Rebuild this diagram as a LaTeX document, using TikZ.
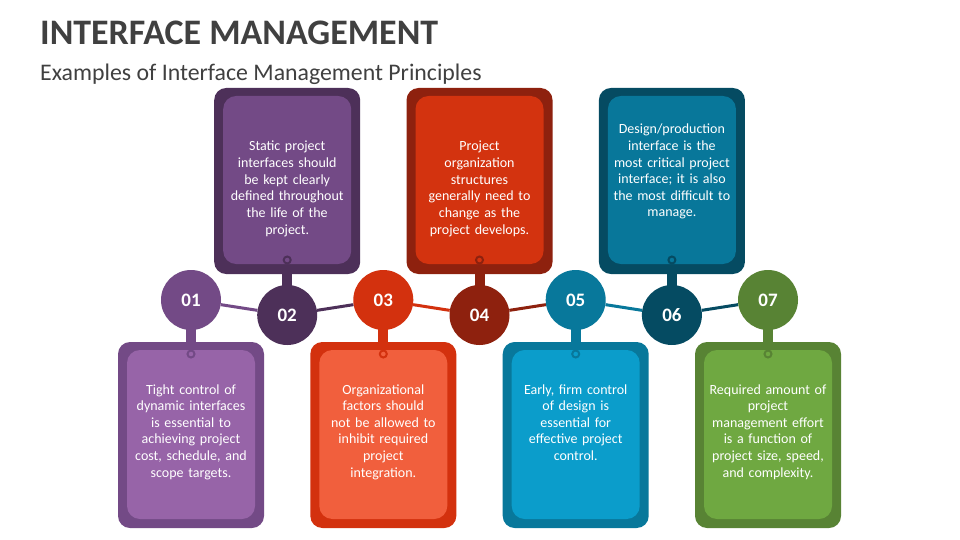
\documentclass[tikz,border=0pt]{standalone}
\usepackage{fontspec}
\setmainfont{Carlito}
\pgfdeclarelayer{bg}
\pgfsetlayers{bg,main}
\definecolor{o1}{HTML}{734A86}\definecolor{i1}{HTML}{9764A8}
\definecolor{o2}{HTML}{4D3059}\definecolor{i2}{HTML}{734A86}
\definecolor{o3}{HTML}{D3310E}\definecolor{i3}{HTML}{F15F3D}
\definecolor{o4}{HTML}{8E210E}\definecolor{i4}{HTML}{D3330F}
\definecolor{o5}{HTML}{08789B}\definecolor{i5}{HTML}{0B9DCB}
\definecolor{o6}{HTML}{054B62}\definecolor{i6}{HTML}{08779A}
\definecolor{o7}{HTML}{588334}\definecolor{i7}{HTML}{6FA841}
\definecolor{titlegray}{HTML}{404040}
\begin{document}
\begin{tikzpicture}[x=1pt,y=-1pt,
  outerbox/.style={rectangle, rounded corners=12pt, minimum width=146pt, minimum height=186pt, inner sep=0pt},
  innerbox/.style={rectangle, rounded corners=13pt, minimum width=128pt, minimum height=168pt, inner sep=0pt},
  numcircle/.style={circle, minimum size=60pt, inner sep=0pt, text=white, font=\fontsize{19}{19}\bfseries\selectfont},
  ring/.style={circle, minimum size=7pt, inner sep=0pt, line width=2pt},
  stem/.style={line width=10pt},
  link/.style={line width=3pt},
  desc/.style={text=white, align=center, text width=140pt, anchor=base, inner sep=0pt, font=\fontsize{14}{16.6}\selectfont}]
\useasboundingbox (0,0) rectangle (960,540);
\node[anchor=base west, inner sep=0pt, text=titlegray, font=\fontsize{35.9}{36}\bfseries\selectfont] (title) at (40,45) {INTERFACE MANAGEMENT};
\node[anchor=base west, inner sep=0pt, text=titlegray, font=\fontsize{23.8}{24}\selectfont] (subtitle) at (40,80.5) {Examples of Interface Management Principles};
% 01 bottom
\node[outerbox, fill=o1] (ob1) at (191,435) {};
\node[innerbox, minimum height=169pt, fill=i1] (ib1) at (191,434.5) {};
\node[ring, draw=o1, fill=i1] (r1) at (191,354) {};
\node[desc] (t1) at (191,394) {Tight control of\\dynamic interfaces\\is essential to\\achieving project\\cost, schedule, and\\scope targets.};
\node[numcircle, fill=o1] (c1) at (191,300) {01};
% 02 top
\node[outerbox, fill=o2] (ob2) at (287.2,181) {};
\node[innerbox, fill=i2] (ib2) at (287.2,180) {};
\node[ring, draw=o2, fill=i2] (r2) at (287.2,260) {};
\node[desc] (t2) at (287.2,151) {Static project\\interfaces should\\be kept clearly\\defined throughout\\the life of the\\project.};
\node[numcircle, fill=o2] (c2) at (287.2,315) {02};
% 03 bottom
\node[outerbox, fill=o3] (ob3) at (383.3,435) {};
\node[innerbox, minimum height=169pt, fill=i3] (ib3) at (383.3,434.5) {};
\node[ring, draw=o3, fill=i3] (r3) at (383.3,354) {};
\node[desc] (t3) at (383.3,394) {Organizational\\factors should\\not be allowed to\\inhibit required\\project\\integration.};
\node[numcircle, fill=o3] (c3) at (383.3,300) {03};
% 04 top
\node[outerbox, fill=o4] (ob4) at (479.5,181) {};
\node[innerbox, fill=i4] (ib4) at (479.5,180) {};
\node[ring, draw=o4, fill=i4] (r4) at (479.5,260) {};
\node[desc] (t4) at (479.5,151) {Project\\organization\\structures\\generally need to\\change as the\\project develops.};
\node[numcircle, fill=o4] (c4) at (479.5,315) {04};
% 05 bottom
\node[outerbox, fill=o5] (ob5) at (575.7,435) {};
\node[innerbox, minimum height=169pt, fill=i5] (ib5) at (575.7,434.5) {};
\node[ring, draw=o5, fill=i5] (r5) at (575.7,354) {};
\node[desc] (t5) at (575.7,394) {Early, firm control\\of design is\\essential for\\effective project\\control.};
\node[numcircle, fill=o5] (c5) at (575.7,300) {05};
% 06 top
\node[outerbox, fill=o6] (ob6) at (671.9,181) {};
\node[innerbox, fill=i6] (ib6) at (671.9,180) {};
\node[ring, draw=o6, fill=i6] (r6) at (671.9,260) {};
\node[desc] (t6) at (671.9,134) {Design/production\\interface is the\\most critical project\\interface; it is also\\the most difficult to\\manage.};
\node[numcircle, fill=o6] (c6) at (671.9,315) {06};
% 07 bottom
\node[outerbox, fill=o7] (ob7) at (768,435) {};
\node[innerbox, minimum height=169pt, fill=i7] (ib7) at (768,434.5) {};
\node[ring, draw=o7, fill=i7] (r7) at (768,354) {};
\node[desc] (t7) at (768,394) {Required amount of\\project\\management effort\\is a function of\\project size, speed,\\and complexity.};
\node[numcircle, fill=o7] (c7) at (768,300) {07};
\begin{pgfonlayer}{bg}
\fill[white] (0,0) rectangle (960,540);
\draw[stem, o1] (r1.center) -- (c1.center);
\draw[stem, o2] (r2.center) -- (c2.center);
\draw[stem, o3] (r3.center) -- (c3.center);
\draw[stem, o4] (r4.center) -- (c4.center);
\draw[stem, o5] (r5.center) -- (c5.center);
\draw[stem, o6] (r6.center) -- (c6.center);
\draw[stem, o7] (r7.center) -- (c7.center);
\draw[link, o1] (c1) -- (c2);
\draw[link, o2] (c2) -- (c3);
\draw[link, o3] (c3) -- (c4);
\draw[link, o4] (c4) -- (c5);
\draw[link, o5] (c5) -- (c6);
\draw[link, o6] (c6) -- (c7);
\end{pgfonlayer}
\end{tikzpicture}
\end{document}
